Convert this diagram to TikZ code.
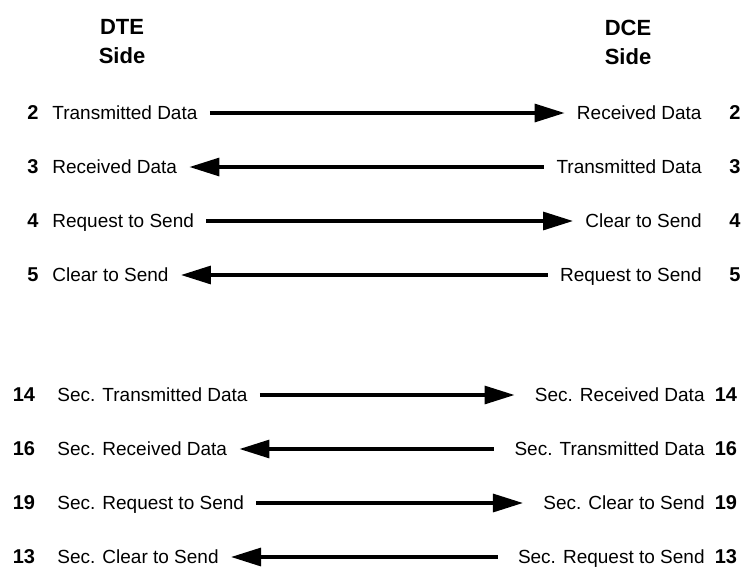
\documentclass[tikz,border=0pt]{standalone}
\usepackage{fontspec}
\setmainfont{Liberation Sans}
\usetikzlibrary{arrows.meta}

\begin{document}
\begin{tikzpicture}[x=0.5pt,y=-0.5pt]
\tikzstyle{head}=[font=\bfseries\fontsize{11}{14.5}\selectfont, align=center]
\tikzstyle{pinno}=[font=\bfseries\fontsize{10}{12}\selectfont, inner sep=0pt]
\tikzstyle{sig}=[font=\fontsize{9.5}{11}\selectfont, inner sep=0pt, text height=1.6ex, text depth=.3ex]
\tikzstyle{connect}=[-{Triangle[length=15pt,width=9pt]}, line width=1.6pt, shorten <=6pt, shorten >=6pt]
\tikzstyle{back}=[{Triangle[length=15pt,width=9pt]}-, line width=1.6pt, shorten <=6pt, shorten >=6pt]
\tikzstyle{far}=[shorten >=10pt]
\useasboundingbox (0,0) rectangle (746,569);

	\node[head] (dte) at (122,42) {DTE\\Side};
	\node[head] (dce) at (628,42) {DCE\\Side};

	\node[pinno] (p2) at (33,113) {2};
	\node[sig, anchor=west] (l2) at (52,113) {Transmitted Data};
	\node[sig, anchor=east] (r2) at (702,113) {Received Data};
	\node[pinno] (q2) at (735,113) {2};

	\node[pinno] (p3) at (33,167) {3};
	\node[sig, anchor=west] (l3) at (52,167) {Received Data};
	\node[sig, anchor=east] (r3) at (702,167) {Transmitted Data};
	\node[pinno] (q3) at (735,167) {3};

	\node[pinno] (p4) at (33,221) {4};
	\node[sig, anchor=west] (l4) at (52,221) {Request to Send};
	\node[sig, anchor=east] (r4) at (702,221) {Clear to Send};
	\node[pinno] (q4) at (735,221) {4};

	\node[pinno] (p5) at (33,275) {5};
	\node[sig, anchor=west] (l5) at (52,275) {Clear to Send};
	\node[sig, anchor=east] (r5) at (702,275) {Request to Send};
	\node[pinno] (q5) at (735,275) {5};

	\node[pinno] (p14) at (24,395) {14};
	\node[sig, anchor=west] (l14) at (57,395) {Sec. Transmitted Data};
	\node[sig, anchor=east] (r14) at (705,395) {Sec. Received Data};
	\node[pinno] (q14) at (726,395) {14};

	\node[pinno] (p16) at (24,449) {16};
	\node[sig, anchor=west] (l16) at (57,449) {Sec. Received Data};
	\node[sig, anchor=east] (r16) at (705,449) {Sec. Transmitted Data};
	\node[pinno] (q16) at (726,449) {16};

	\node[pinno] (p19) at (24,503) {19};
	\node[sig, anchor=west] (l19) at (57,503) {Sec. Request to Send};
	\node[sig, anchor=east] (r19) at (705,503) {Sec. Clear to Send};
	\node[pinno] (q19) at (726,503) {19};

	\node[pinno] (p13) at (24,557) {13};
	\node[sig, anchor=west] (l13) at (57,557) {Sec. Clear to Send};
	\node[sig, anchor=east] (r13) at (705,557) {Sec. Request to Send};
	\node[pinno] (q13) at (726,557) {13};

	\path
		(l2) edge [connect] (r2)
		(l3) edge [back] (r3)
		(l4) edge [connect] (r4)
		(l5) edge [back] (r5)
		(l14) edge [connect, far] (r14)
		(l16) edge [back, far] (r16)
		(l19) edge [connect, far] (r19)
		(l13) edge [back, far] (r13);

\end{tikzpicture}
\end{document}
